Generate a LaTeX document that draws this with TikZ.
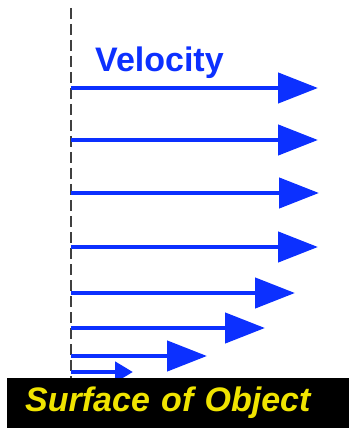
\documentclass[tikz,border=0pt]{standalone}
\usepackage{fontspec}
\setmainfont{Liberation Sans}
\usetikzlibrary{arrows.meta}
\definecolor{velblue}{RGB}{12,48,255}
\definecolor{surfyellow}{RGB}{240,228,0}
\begin{document}
\begin{tikzpicture}[
  x=1pt, y=-1pt,
  vel/.style={velblue, line width=4.5pt, -{Triangle[length=40pt,width=30pt]}},
  velsmall/.style={velblue, line width=4.5pt, -{Triangle[length=18pt,width=20pt]}},
  wall/.style={black!75, line width=1.5pt, dash pattern=on 11pt off 5pt}
]
  \useasboundingbox (0,0) rectangle (349,430);
  % positions
  \coordinate (top) at (71,8);
  \coordinate (bot) at (71,378);
  \coordinate (s1) at (71,88);   \coordinate (e1) at (318,88);
  \coordinate (s2) at (71,140);  \coordinate (e2) at (318,140);
  \coordinate (s3) at (71,193);  \coordinate (e3) at (319,193);
  \coordinate (s4) at (71,247);  \coordinate (e4) at (318,247);
  \coordinate (s5) at (71,293);  \coordinate (e5) at (295,293);
  \coordinate (s6) at (71,328);  \coordinate (e6) at (265,328);
  \coordinate (s7) at (71,356);  \coordinate (e7) at (207,356);
  \coordinate (s8) at (71,372);  \coordinate (e8) at (133,372);
  \node[anchor=base west, inner sep=0pt, text=velblue,
        font=\fontsize{34}{36}\selectfont\bfseries] (vlabel) at (95,72) {Velocity};

  % wall
  \draw[wall] (top) -- (bot);

  % edges
  \draw[vel] (s1) -- (e1);
  \draw[vel] (s2) -- (e2);
  \draw[vel] (s3) -- (e3);
  \draw[vel] (s4) -- (e4);
  \draw[vel] (s5) -- (e5);
  \draw[vel] (s6) -- (e6);
  \draw[vel] (s7) -- (e7);
  \draw[velsmall] (s8) -- (e8);

  % surface
  \node[anchor=north west, fill=black, minimum width=342pt, minimum height=50pt,
        inner xsep=18pt, inner ysep=0pt, text width=306pt, align=left, text=surfyellow,
        font=\fontsize{34}{36}\selectfont\bfseries\itshape] (surface) at (7,378) {Surface of Object};
\end{tikzpicture}
\end{document}
